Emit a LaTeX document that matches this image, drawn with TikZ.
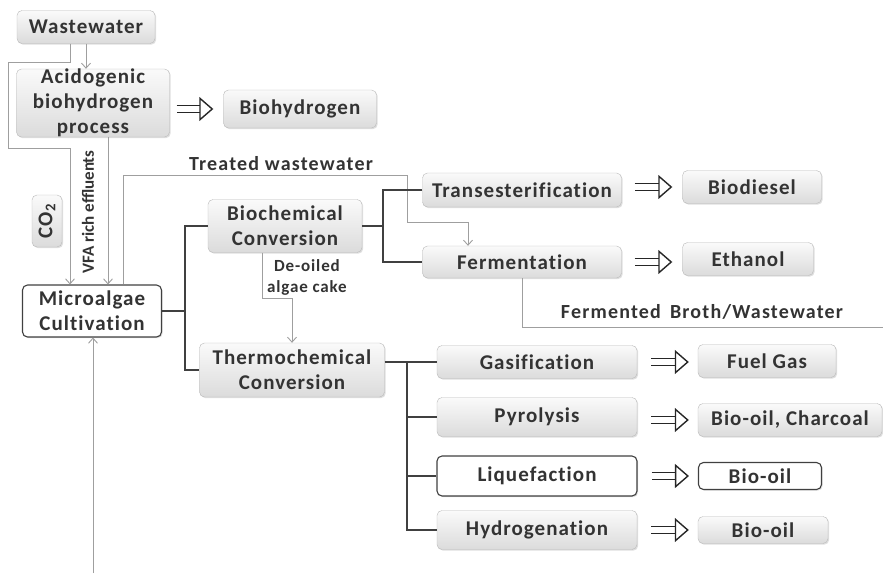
\documentclass[tikz,border=0pt]{standalone}
\usepackage{fontspec}
\setmainfont{Carlito}
\newfontfamily\boxfont[LetterSpace=5, Ligatures=CommonOff]{Carlito}
\newfontfamily\lblfont[LetterSpace=6, Ligatures=CommonOff]{Carlito}
\usetikzlibrary{arrows.meta,shadows}

\tikzset{
  box/.style={draw=gray!55, rounded corners=5pt, top color=gray!4, bottom color=gray!28,
    drop shadow={shadow xshift=1.2pt, shadow yshift=-1.2pt, opacity=0.25},
    font=\boxfont\fontsize{21}{25}\selectfont\bfseries, text=black!80, align=center, inner sep=0pt},
  wbox/.style={box, draw=black!75, line width=1.1pt, top color=white, bottom color=white},
  flow/.style={draw=gray!75, line width=0.9pt},
  tree/.style={draw=black!75, line width=1.4pt},
  yields/.style={double=white, draw=black!85, double distance=6pt, line width=1.4pt,
    -{Triangle[open, length=14pt, width=24pt, line width=1.4pt]}},
  lbl/.style={font=\lblfont\fontsize{20}{21}\selectfont\bfseries, text=black!80, align=center, inner sep=0pt}
}

\begin{document}
\begin{tikzpicture}[x=1pt, y=-1pt, >={Straight Barb[length=5pt,width=9pt]}]
  \useasboundingbox (0,0) rectangle (883,573);

  % left column
  \node[box, minimum width=138, minimum height=33] (waste) at (86,27)  {Wastewater};
  \node[box, minimum width=153, minimum height=67] (acid)  at (93,103) {Acidogenic\\biohydrogen\\process};
  \node[box, minimum width=153, minimum height=38] (bioh)  at (300,109) {Biohydrogen};
  \node[box, minimum width=52, minimum height=30, rotate=90] (co2) at (47,221) {CO\textsubscript{2}};
  \node[wbox, minimum width=139, minimum height=52] (micro) at (92,311) {Microalgae\\Cultivation};

  % conversion routes
  \node[box, minimum width=154, minimum height=53] (bioc)  at (285,226) {Biochemical\\Conversion};
  \node[box, minimum width=185, minimum height=54] (therm) at (292,370) {Thermochemical\\Conversion};

  \node[box, minimum width=199, minimum height=34] (trans) at (522,190) {Transesterification};
  \node[box, minimum width=199, minimum height=32] (ferm)  at (522,262) {Fermentation};
  \node[box, minimum width=139, minimum height=33] (diesel) at (752,187) {Biodiesel};
  \node[box, minimum width=131, minimum height=33] (ethanol) at (748,259) {Ethanol};

  \node[box, minimum width=200, minimum height=33] (gasif) at (537,362) {Gasification};
  \node[box, minimum width=200, minimum height=39] (pyro)  at (537,417) {Pyrolysis};
  \node[wbox, minimum width=200, minimum height=40] (lique) at (537,476) {Liquefaction};
  \node[box, minimum width=200, minimum height=39] (hydro) at (537,530) {Hydrogenation};

  \node[box, minimum width=138, minimum height=33] (fuel) at (767,361) {Fuel Gas};
  \node[box, minimum width=184, minimum height=33] (char) at (790,420) {Bio-oil, Charcoal};
  \node[wbox, minimum width=123, minimum height=27] (oilA) at (760,476) {Bio-oil};
  \node[box, minimum width=130, minimum height=27] (oilB) at (763,530) {Bio-oil};

  % bends
  \coordinate (wv1) at (8,62);
  \coordinate (wv2) at (70,148);
  \coordinate (tw1) at (407,175);
  \coordinate (tw2) at (468,222);
  \coordinate (deo) at (262,298);
  \coordinate (fb)  at (883,327);
  \coordinate (inlet) at (93,573);
  \coordinate (j1) at (185,0);
  \coordinate (j2) at (383,0);
  \coordinate (j3) at (407,0);

  % wastewater flows
  \draw[flow,->] (waste.south -| 86,0) -- (acid.north -| 86,0);
  \draw[flow,->] ([xshift=-16pt]waste.south) |- (wv1) |- (wv2) -- (wv2 |- micro.north);
  \draw[flow,->] ([xshift=15pt]acid.south) -- ([xshift=15pt]acid.south |- micro.north);
  \node[lbl, font=\fontsize{17}{21}\selectfont\bfseries, rotate=90] (vfa) at (88,212) {VFA rich effluents};
  \draw[flow,->] ([xshift=31pt]micro.north) |- (tw1) |- (tw2) -- (tw2 |- ferm.north);
  \node[lbl] (treated) at (281,164) {Treated wastewater};
  \draw[flow,->] (inlet) -- (inlet |- micro.south);

  % branches
  \draw[tree] (micro.east) -- (micro.east -| j1);
  \draw[tree] (bioc.west) -| (j1 |- therm.west) -- (therm.west);
  \draw[tree] (bioc.east) -- (bioc.east -| j2);
  \draw[tree] (trans.west) -| (j2 |- ferm.west) -- (ferm.west);
  \draw[tree] (therm.east |- gasif.west) -- (gasif.west);
  \draw[tree] (j3 |- gasif.west) |- (hydro.west);
  \draw[tree] (j3 |- pyro.west) -- (pyro.west);
  \draw[tree] (j3 |- lique.west) -- (lique.west);

  % side streams
  \draw[flow,->] ([xshift=-23pt]bioc.south) -- (deo) -| (therm.north);
  \node[lbl, font=\boxfont\fontsize{17}{21}\selectfont\bfseries] (cake) at (307,277) {De-oiled\\algae cake};
  \draw[flow] (ferm.south) |- (fb);
  \node[lbl] (broth) at (702,312) {Fermented\, Broth/Wastewater};

  % products
  \draw[yields, shorten <=7pt, shorten >=10pt] (acid.east |- bioh.west) -- (bioh.west);
  \draw[yields, shorten <=13pt, shorten >=10pt] (trans.east |- diesel.west) -- (diesel.west);
  \draw[yields, shorten <=13pt, shorten >=10pt] (ferm.east) -- (ferm.east -| ethanol.west);
  \draw[yields, shorten <=14pt, shorten >=9pt] (gasif.east) -- (gasif.east -| fuel.west);
  \draw[yields, shorten <=14pt, shorten >=9pt] (pyro.east |- char.west) -- (char.west);
  \draw[yields, shorten <=14pt, shorten >=9pt] (lique.east) -- (lique.east -| oilA.west);
  \draw[yields, shorten <=14pt, shorten >=9pt] (hydro.east) -- (hydro.east -| oilB.west);
\end{tikzpicture}
\end{document}
